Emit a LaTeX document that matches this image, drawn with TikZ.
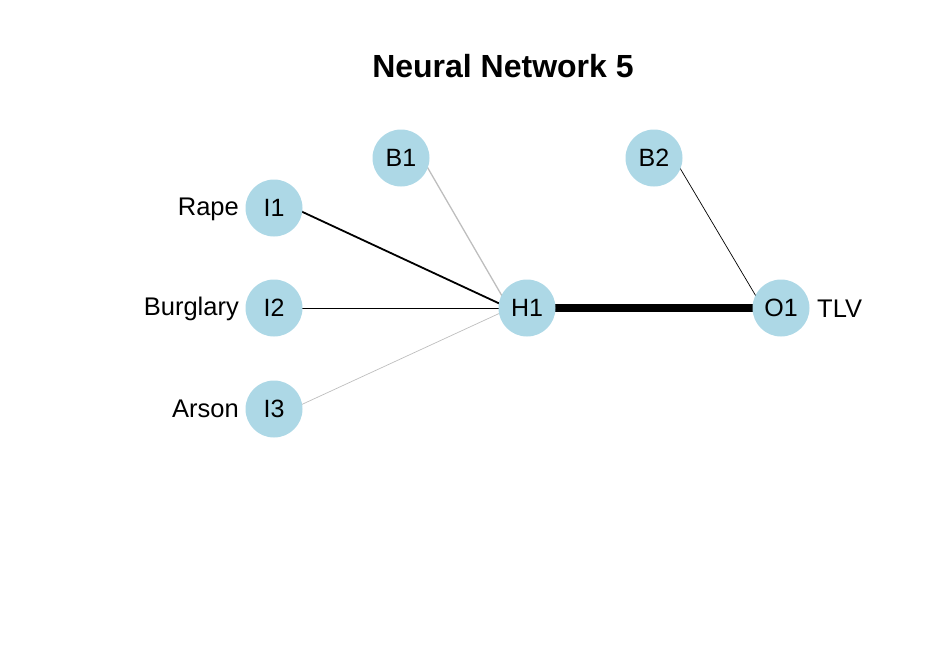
\documentclass[tikz,border=0pt]{standalone}
\usepackage{fontspec}
\setmainfont{Liberation Sans}
\usetikzlibrary{backgrounds}
\definecolor{nodeblue}{RGB}{173,216,230}
\definecolor{lgray}{RGB}{190,190,190}
\begin{document}
\begin{tikzpicture}[x=1pt,y=-1pt,
  neuron/.style={circle,fill=nodeblue,minimum size=57pt,inner sep=0pt,font=\fontsize{25}{25}\selectfont},
  lab/.style={font=\fontsize{25.5}{25}\selectfont,inner sep=0pt},
  ttl/.style={font=\fontsize{32}{32}\selectfont\bfseries,inner sep=0pt}]
\useasboundingbox (0,0) rectangle (945,646);
\node[ttl] (title) at (503,66) {Neural Network 5};
\node[neuron] (I1) at (274,208) {I1};
\node[neuron] (I2) at (274,308) {I2};
\node[neuron] (I3) at (274,409) {I3};
\node[neuron] (B1) at (401,158) {B1};
\node[neuron] (H1) at (527,308) {H1};
\node[neuron] (B2) at (654,158) {B2};
\node[neuron] (O1) at (781,308) {O1};
\node[lab,anchor=east] (lRape) at (239,209) {Rape};
\node[lab,anchor=east] (lBurg) at (239,309) {Burglary};
\node[lab,anchor=east] (lArson) at (239,409) {Arson};
\node[lab,anchor=west] (lTLV) at (817,309) {TLV};
\begin{scope}[on background layer]
\draw[line width=1.8pt] ([xshift=20pt]I1.center) -- ([xshift=-18pt]H1.center);
\draw[line width=0.8pt] ([xshift=20pt]I2.center) -- ([xshift=-18pt]H1.center);
\draw[line width=0.7pt,lgray] ([xshift=18pt]I3.center) -- ([xshift=-16pt]H1.center);
\draw[line width=1.3pt,lgray] ([xshift=21pt]B1.center) -- ([xshift=-18pt]H1.center);
\draw[line width=0.7pt] ([xshift=20pt]B2.center) -- ([xshift=-18pt]O1.center);
\draw[line width=7.5pt] (H1.center) -- (O1.center);
\end{scope}
\end{tikzpicture}
\end{document}
